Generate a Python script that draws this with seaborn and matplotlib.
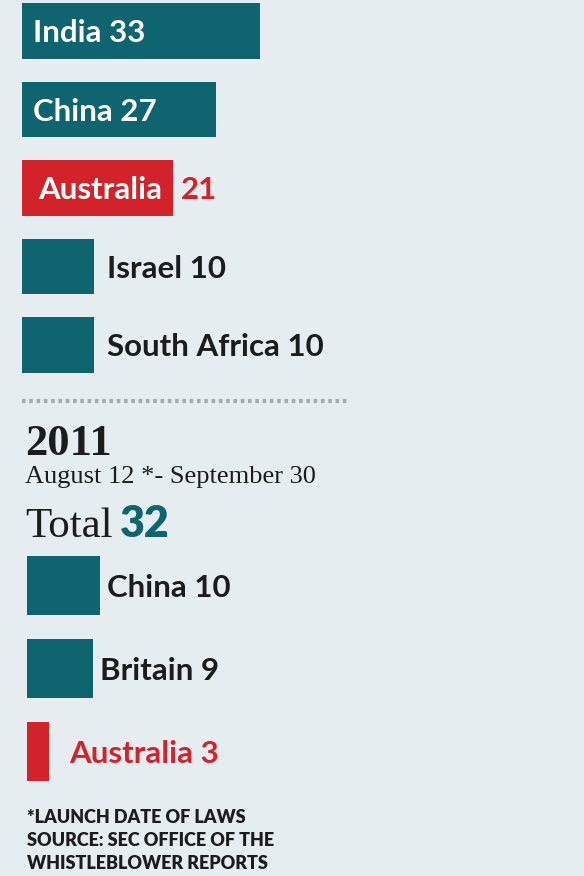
import matplotlib
matplotlib.use("Agg")
import matplotlib.pyplot as plt
import seaborn as sns
from matplotlib.lines import Line2D

# Whistleblower tips by country
top_countries = ["India", "China", "Australia", "Israel", "South Africa"]
top_counts = [33, 27, 21, 10, 10]

countries_2011 = ["China", "Britain", "Australia"]
counts_2011 = [10, 9, 3]
total_2011 = 32

year_label = "2011"
period_label = "August 12 *- September 30"
footnote_lines = ["*LAUNCH DATE OF LAWS", "SOURCE: SEC OFFICE OF THE", "WHISTLEBLOWER REPORTS"]

BG = "#e5edf0"
TEAL = "#0e6570"
RED = "#d2232a"
DARK = "#1c1c1c"
W, H = 584, 876

sns.set_theme(style="white")
plt.rcParams["font.family"] = ["Lato", "DejaVu Sans"]


def bar_colors(names):
    return [RED if n == "Australia" else TEAL for n in names]


fig = plt.figure(figsize=(W / 100, H / 100), dpi=100, facecolor=BG)


def px_axes(top, bottom):
    ax = fig.add_axes([0, 1 - bottom / H, 1, (bottom - top) / H])
    ax.set_facecolor(BG)
    return ax


lab = dict(fontsize=22.5, fontweight="bold", va="baseline", textcoords="offset pixels")

# top block
ax1 = px_axes(0, 390)
sns.barplot(x=top_counts, y=top_countries, hue=top_countries,
            palette=bar_colors(top_countries), orient="h", width=0.71,
            saturation=1, legend=False, linewidth=0, ax=ax1)
ax1.set_xlim(-22 / 7.2, (W - 22) / 7.2)
ax1.set_ylim(4.573, -0.395)
ax1.axis("off")

for i, (name, v) in enumerate(zip(top_countries, top_counts)):
    col = bar_colors([name])[0]
    if v >= 25:
        ax1.annotate(f"{name} {v}", xy=(0, i), xytext=(11, -11), color="white", **lab)
    elif v >= 20:
        # name fits inside, number doesn't
        ax1.annotate(name, xy=(0, i), xytext=(16, -11), color="white", **lab)
        ax1.annotate(str(v), xy=(v, i), xytext=(8, -11), color=col, **lab)
    else:
        ax1.annotate(f"{name} {v}", xy=(v, i), xytext=(13, -11), color=DARK, **lab)

# dotted separator
fig.add_artist(Line2D([22 / W, 348 / W], [1 - 401 / H] * 2, color="#a3abaf",
                      lw=3, linestyle=(0, (0.85, 0.9))))

# 2011 header
fig.text(25 / W, 1 - 455 / H, year_label, family="Liberation Serif",
         fontweight="bold", fontsize=32, color=DARK, va="baseline")
fig.text(25 / W, 1 - 483 / H, period_label, family="Liberation Serif",
         fontsize=19, color=DARK, va="baseline")
fig.text(25 / W, 1 - 537 / H, "Total", family="Liberation Serif",
         fontsize=31, color=DARK, va="baseline")
fig.text(120 / W, 1 - 537 / H, str(total_2011), fontweight="heavy",
         fontsize=31, color=TEAL, va="baseline")

# 2011 bars
ax2 = px_axes(550, 795)
sns.barplot(x=counts_2011, y=countries_2011, hue=countries_2011,
            palette=bar_colors(countries_2011), orient="h", width=0.72,
            saturation=1, legend=False, linewidth=0, ax=ax2)
ax2.set_xlim(-27 / 7.3, (W - 27) / 7.3)
ax2.set_ylim(2.524, -0.428)
ax2.axis("off")

for i, (name, v) in enumerate(zip(countries_2011, counts_2011)):
    col = RED if name == "Australia" else DARK
    gap = 20 if v < 5 else 7
    ax2.annotate(f"{name} {v}", xy=(v, i), xytext=(gap, -11), color=col, **lab)

# footnote
for k, line in enumerate(footnote_lines):
    fig.text(27 / W, 1 - (823 + 23 * k) / H, line, fontweight="heavy",
             fontsize=13, color=DARK, va="baseline")

fig.savefig("out.png", dpi=100, facecolor=BG)
